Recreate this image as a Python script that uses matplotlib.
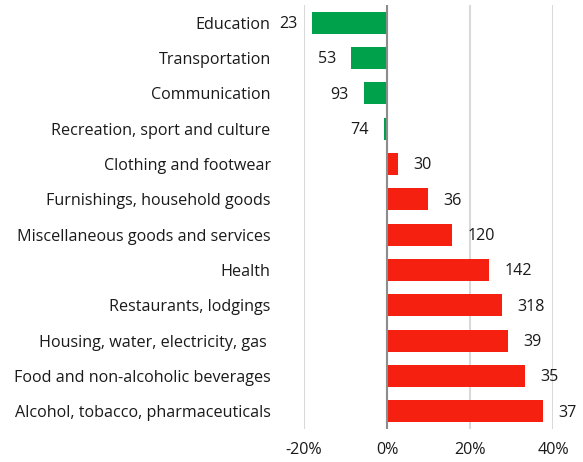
import matplotlib.pyplot as plt
from matplotlib.ticker import FuncFormatter

plt.rcParams['font.family'] = ['Open Sans', 'DejaVu Sans']

categories = ["Education", "Transportation", "Communication",
              "Recreation, sport and culture", "Clothing and footwear",
              "Furnishings, household goods", "Miscellaneous goods and services",
              "Health", "Restaurants, lodgings", "Housing, water, electricity, gas ",
              "Food and non-alcoholic beverages", "Alcohol, tobacco, pharmaceuticals"]
change_pct = [-18.0, -8.6, -5.5, -0.8, 2.7, 9.9, 15.7, 24.6, 27.7, 29.2, 33.2, 37.6]
counts = [23, 53, 93, 74, 30, 36, 120, 142, 318, 39, 35, 37]

green = "#00a14b"
red = "#f5200f"
txt = "#1a1a1a"
fs = 11.6

fig = plt.figure(figsize=(5.83, 4.62), dpi=100)
ax = fig.add_axes([304 / 583, 33 / 462, 249 / 583, 424 / 462])

ypos = range(len(categories))
colors = [green if v < 0 else red for v in change_pct]
ax.barh(ypos, change_pct, height=0.63, color=colors, zorder=3)

for y, v, n in zip(ypos, change_pct, counts):
    if v < 0:
        ax.annotate(str(n), (v, y), xytext=(-11, -1), textcoords="offset points",
                    ha="right", va="center", fontsize=fs, color=txt,
                    annotation_clip=False)
    else:
        ax.annotate(str(n), (v, y), xytext=(11, -1), textcoords="offset points",
                    ha="left", va="center", fontsize=fs, color=txt,
                    annotation_clip=False)

ax.set_xlim(-20, 40)
ax.set_ylim(len(categories) - 0.5, -0.5)
ax.set_xticks([-20, 0, 20, 40])
ax.xaxis.set_major_formatter(FuncFormatter(lambda x, _: f"{x:.0f}%"))
ax.set_yticks(list(ypos))
ax.set_yticklabels(categories)
ax.tick_params(axis="y", length=0, pad=24, labelsize=fs, labelcolor=txt)
ax.tick_params(axis="x", length=0, pad=9, labelsize=fs, labelcolor=txt)

ax.grid(axis="x", color="#d9d9d9", linewidth=1.5, zorder=0)
ax.axvline(0, color="#8c8c8c", linewidth=1.5, zorder=4)
for s in ax.spines.values():
    s.set_visible(False)

fig.savefig("out.png", dpi=100)
